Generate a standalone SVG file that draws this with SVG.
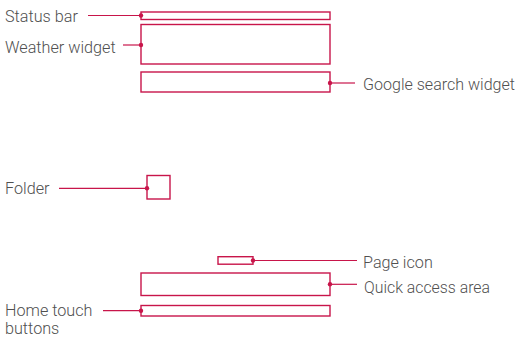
<svg xmlns="http://www.w3.org/2000/svg" width="520" height="338" viewBox="0 0 520 338">
<style>
.box{fill:none;stroke:#c8154a;stroke-width:1.4}
.ln{stroke:#c8154a;stroke-width:1.2;fill:none}
.dot{fill:#c8154a}
.lbl{font-family:Roboto,"Noto Sans",sans-serif;font-weight:300;font-size:16.2px;fill:#505050}
</style>
<rect width="520" height="338" fill="#fff"/>
<g id="status-bar"><rect class="box" x="141" y="12" width="189" height="7.5"/><text class="lbl" x="5" y="22">Status bar</text></g>
<g id="weather-widget"><rect class="box" x="141" y="24.5" width="189" height="39.5"/><text class="lbl" x="5" y="52.5">Weather widget</text></g>
<g id="google-search-widget"><rect class="box" x="141" y="72" width="189" height="20"/><text class="lbl" x="363" y="90" textLength="152" lengthAdjust="spacingAndGlyphs">Google search widget</text></g>
<g id="folder"><rect class="box" x="147" y="175.5" width="23" height="23.5"/><text class="lbl" x="5" y="194">Folder</text></g>
<g id="page-icon"><rect class="box" x="218" y="256.7" width="35" height="7.5"/><text class="lbl" x="363" y="268.3">Page icon</text></g>
<g id="quick-access-area"><rect class="box" x="141" y="273" width="189" height="22.5"/><text class="lbl" x="364" y="293.3" textLength="126" lengthAdjust="spacingAndGlyphs">Quick access area</text></g>
<g id="home-touch-buttons"><rect class="box" x="141" y="305.5" width="189" height="10.5"/><text class="lbl" x="5" y="316">Home touch</text><text class="lbl" x="5" y="333.5">buttons</text></g>
<g id="connectors">
<line class="ln" x1="88" y1="15.5" x2="141" y2="15.5"/><circle class="dot" cx="141" cy="15.5" r="2.2"/>
<line class="ln" x1="123" y1="45" x2="141" y2="45"/><circle class="dot" cx="141" cy="45" r="2.2"/>
<line class="ln" x1="330" y1="83" x2="355" y2="83"/><circle class="dot" cx="330" cy="83" r="2.2"/>
<line class="ln" x1="59" y1="188.3" x2="147" y2="188.3"/><circle class="dot" cx="147" cy="188.3" r="2.2"/>
<line class="ln" x1="253" y1="260.5" x2="357" y2="260.5"/><circle class="dot" cx="253" cy="260.5" r="2.2"/>
<line class="ln" x1="330" y1="284.3" x2="357" y2="284.3"/><circle class="dot" cx="330" cy="284.3" r="2.2"/>
<line class="ln" x1="103" y1="310.7" x2="141" y2="310.7"/><circle class="dot" cx="141" cy="310.7" r="2.2"/>
</g>
</svg>
